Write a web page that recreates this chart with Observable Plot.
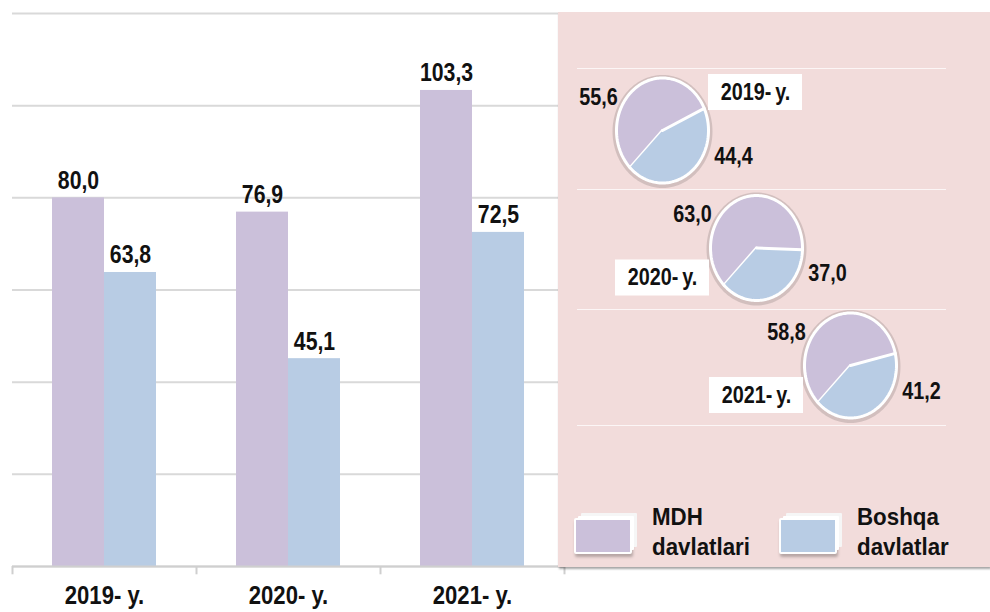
<!DOCTYPE html>
<html>
<head>
<meta charset="utf-8">
<script src="https://cdn.jsdelivr.net/npm/d3@7"></script>
<script src="https://cdn.jsdelivr.net/npm/@observablehq/plot@0.6"></script>
<style>
  html, body { margin: 0; padding: 0; background: #fff; }
  #wrap { position: relative; width: 990px; height: 612px; overflow: hidden;
          font-family: "Liberation Sans", Arial, sans-serif; font-weight: bold; }
  #bars { position: absolute; left: 0; top: 0; }
  #panel { position: absolute; left: 558px; top: 12px; width: 432px; height: 555px;
           background: #f2dcdb; box-shadow: 1px 2px 2px rgba(0,0,0,0.35); }
  #pies { position: absolute; left: 0; top: 0; }
  .sw { position: absolute; width: 54px; height: 32px; border: 2px solid #fff; border-radius: 2px;
        box-shadow: 3px -3px 0 -1px #fff, 6px -6px 0 -1px #f6f6f6, 1px 3px 3px rgba(0,0,0,0.25); }
  .lt { position: absolute; font-size: 24px; line-height: 30px; color: #111; transform: scaleX(0.93); transform-origin: 0 0; white-space: nowrap; }
</style>
</head>
<body>
<div id="wrap">
  <div id="bars"></div>
  <div id="panel">
    <div id="pies"></div>
    <div class="sw" id="sw0" style="left:16px; top:506px;"></div>
    <div class="lt" id="lt0" style="left:94px; top:490px;"></div>
    <div class="sw" id="sw1" style="left:221px; top:506px;"></div>
    <div class="lt" id="lt1" style="left:299px; top:490px;"></div>
  </div>
</div>
<script>
// ---- data ----
const years = ["2019- y.", "2020- y.", "2021- y."];
const series = ["MDH davlatlari", "Boshqa davlatlar"];
const seriesLines = [["MDH", "davlatlari"], ["Boshqa", "davlatlar"]];
const mdhValues = [80.0, 76.9, 103.3];
const boshqaValues = [63.8, 45.1, 72.5];
const mdhShares = [55.6, 63.0, 58.8];
const boshqaShares = [44.4, 37.0, 41.2];
const yTicks = [0, 20, 40, 60, 80, 100, 120];

// ---- style ----
const colors = ["#cbc0da", "#b8cce4"];
const FONT = '"Liberation Sans", Arial, sans-serif';
const fmt = v => d3.format(".1f")(v).replace(".", ",");

// condense SVG text like Arial Narrow
function condense(svg, k) {
  svg.querySelectorAll("text").forEach(t => {
    const len = t.getComputedTextLength();
    if (len > 0) {
      t.setAttribute("textLength", (len * k).toFixed(2));
      t.setAttribute("lengthAdjust", "spacingAndGlyphs");
    }
  });
}

// ---- bar chart ----
const rows = [];
years.forEach((y, i) => {
  rows.push({year: y, series: series[0], value: mdhValues[i]});
  rows.push({year: y, series: series[1], value: boshqaValues[i]});
});

const bars = Plot.plot({
  width: 566, height: 612,
  marginTop: 13, marginBottom: 46, marginLeft: 12, marginRight: 2,
  style: {fontFamily: FONT, fontWeight: "bold", background: "transparent", color: "#111"},
  fx: {domain: years, padding: 0, label: null},
  x: {domain: series, paddingInner: 0, paddingOuter: 0.769, axis: null},
  y: {domain: [0, 120], axis: null},
  color: {domain: series, range: colors},
  marks: [
    Plot.ruleY(yTicks, {stroke: "#d9d9d9", strokeWidth: 2}),
    Plot.barY(rows, {fx: "year", x: "series", y: "value", fill: "series", inset: 0}),
    Plot.ruleY([0], {stroke: "#cfcfcf", strokeWidth: 2}),
    Plot.ruleX(years, {fx: d => d, x: () => series[0], dx: -66, y1: 0, y2: -1.8, stroke: "#cfcfcf", strokeWidth: 2}),
    Plot.ruleX(years.slice(-1), {fx: d => d, x: () => series[1], dx: 66, y1: 0, y2: -1.8, stroke: "#cfcfcf", strokeWidth: 2}),
    Plot.text(rows, {fx: "year", x: "series", y: "value", text: d => fmt(d.value),
      lineAnchor: "bottom", dy: -9, fontSize: 25, fontWeight: "bold", fill: "#111"}),
    Plot.axisFx({anchor: "bottom", tickSize: 0, tickPadding: 19, fontSize: 26, fontWeight: "bold", label: null})
  ]
});
document.getElementById("bars").appendChild(bars);
condense(bars, 0.85);

// ---- pies ----
const pieX = d3.scalePoint(years, [104, 292]);
const pieY = d3.scalePoint(years, [118, 353]);
const RX = 46, RY = 52.5;
const start = 225 * Math.PI / 180;
const slicePts = [[], []];
const ringPts = [];
const centers = years.map(y => ({year: y, cx: pieX(y), cy: pieY(y)}));
centers.forEach((c, i) => {
  const arcs = d3.pie().sort(null).startAngle(start).endAngle(start + 2 * Math.PI)([mdhShares[i], boshqaShares[i]]);
  arcs.forEach((a, k) => {
    const key = c.year + k;
    slicePts[k].push({key, x: c.cx, y: c.cy});
    const n = Math.max(8, Math.ceil((a.endAngle - a.startAngle) / 0.03));
    for (let j = 0; j <= n; j++) {
      const t = a.startAngle + (a.endAngle - a.startAngle) * j / n;
      slicePts[k].push({key, x: c.cx + RX * Math.sin(t), y: c.cy - RY * Math.cos(t)});
    }
  });
  for (let j = 0; j <= 120; j++) {
    const t = j / 120 * 2 * Math.PI;
    ringPts.push({key: c.year, x: c.cx + (RX + 1) * Math.sin(t), y: c.cy - (RY + 1) * Math.cos(t)});
  }
});
const panelGrid = [56, 177, 297, 413];
const yearBoxes = centers.map((c, i) => ({year: c.year, x: c.cx + (i === 0 ? 93 : -94), y: c.cy + (i === 0 ? -38 : 30)}));

const pies = Plot.plot({
  width: 432, height: 555, margin: 0,
  style: {fontFamily: FONT, fontWeight: "bold", background: "transparent", color: "#111"},
  x: {domain: [0, 432], range: [0, 432], axis: null},
  y: {domain: [0, 555], range: [0, 555], axis: null},
  marks: [
    Plot.ruleY(panelGrid, {x1: 19, x2: 388, stroke: "#ffffff", strokeOpacity: 0.75, strokeWidth: 1.2}),
    Plot.line(ringPts, {x: "x", y: "y", z: "key", stroke: "#000", strokeOpacity: 0.13, strokeWidth: 6, dy: 1}),
    Plot.line(slicePts[0], {x: "x", y: "y", z: "key", fill: colors[0], stroke: "#fff", strokeWidth: 3, strokeLinejoin: "round"}),
    Plot.line(slicePts[1], {x: "x", y: "y", z: "key", fill: colors[1], stroke: "#fff", strokeWidth: 3, strokeLinejoin: "round"}),
    Plot.text(centers, {x: d => d.cx, y: d => d.cy, dx: -64, dy: -33, text: (d, i) => fmt(mdhShares[i]), fontSize: 23, fontWeight: "bold", fill: "#111"}),
    Plot.text(centers, {x: d => d.cx, y: d => d.cy, dx: 71, dy: 26, text: (d, i) => fmt(boshqaShares[i]), fontSize: 23, fontWeight: "bold", fill: "#111"}),
    Plot.rect(yearBoxes, {x1: d => d.x - 47, x2: d => d.x + 47, y1: d => d.y - 18, y2: d => d.y + 18, fill: "#fff"}),
    Plot.text(yearBoxes, {x: "x", y: "y", text: d => d.year.replace("- ", "-\u2009"), fontSize: 23, fontWeight: "bold", fill: "#111"})
  ]
});
document.getElementById("pies").appendChild(pies);
condense(pies, 0.86);

// ---- legend ----
[0, 1].forEach(k => {
  document.getElementById("sw" + k).style.background = colors[k];
  document.getElementById("lt" + k).innerHTML = seriesLines[k].join("<br>");
});
</script>
</body>
</html>
